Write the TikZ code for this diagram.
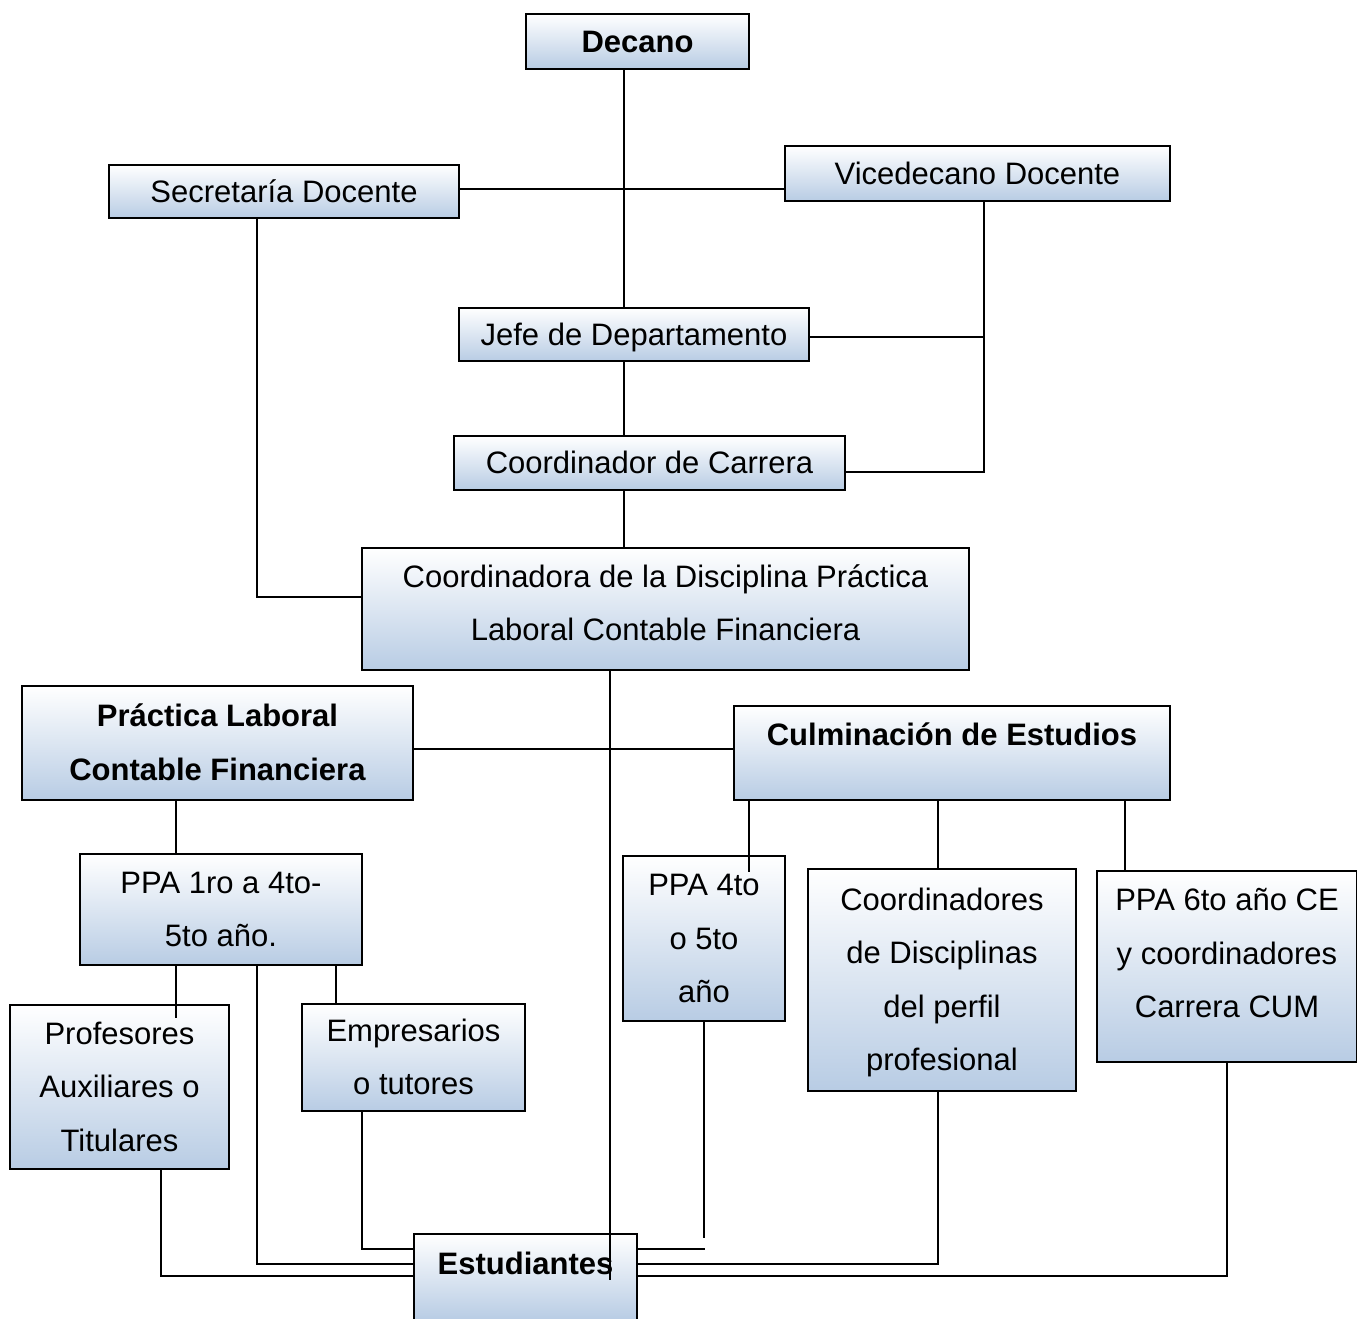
\documentclass[tikz,border=0pt]{standalone}
\usepackage{fontspec}
\setmainfont{Liberation Sans}
\definecolor{boxblue}{RGB}{184,204,228}
\tikzset{
  orgbox/.style={draw, line width=1.6pt, top color=white, bottom color=boxblue,
    inner sep=0pt, align=center, font=\fontsize{31}{53.5}\selectfont,
    execute at begin node=\strut, execute at end node=\strut},
  conn/.style={line width=1.6pt, line cap=rect}
}
\begin{document}
\begin{tikzpicture}[x=1pt,y=-1pt]
\useasboundingbox (0,0) rectangle (1357,1318);
% boxes
\node[orgbox, minimum width=223pt, minimum height=55pt] (dec) at (637.5,41.5) {\textbf{Decano}};
\node[orgbox, minimum width=350pt, minimum height=51pt] (sec) at (284,191.5) {Secretaría Docente};
\node[orgbox, minimum width=385pt, minimum height=55pt] (vice) at (977.5,173.5) {Vicedecano Docente};
\node[orgbox, minimum width=350pt, minimum height=53pt] (jefe) at (634,334.5) {Jefe de Departamento};
\node[orgbox, minimum width=391pt, minimum height=52pt] (coord) at (649.5,463) {Coordinador de Carrera};
\node[orgbox, minimum width=607pt, minimum height=122pt] (disc) at (665.5,609) {\strut Coordinadora de la Disciplina Práctica\\Laboral Contable Financiera\rule[-27pt]{0pt}{27pt}};
\node[orgbox, minimum width=391pt, minimum height=114pt] (plcf) at (217.5,743) {\strut\textbf{Práctica Laboral}\\\textbf{Contable Financiera}};
\node[orgbox, minimum width=436pt, minimum height=94pt] (culm) at (952,753) {\textbf{Culminación de Estudios}\rule[-52pt]{0pt}{52pt}};
\node[orgbox, minimum width=282pt, minimum height=111pt] (ppa1) at (221,909.5) {\strut PPA 1ro a 4to-\\5to año.};
\node[orgbox, minimum width=162pt, minimum height=165pt] (ppa4) at (704,938.5) {\strut PPA 4to\\o 5to\\año};
\node[orgbox, minimum width=268pt, minimum height=222pt] (cdis) at (942,980) {\strut Coordinadores\\de Disciplinas\\del perfil\\profesional};
\node[orgbox, minimum width=260pt, minimum height=191pt] (ppa6) at (1227,966.5) {\strut PPA 6to año CE\\y coordinadores\\Carrera CUM\rule[-42pt]{0pt}{42pt}};
\node[orgbox, minimum width=219pt, minimum height=164pt] (prof) at (119.5,1087) {\strut Profesores\\Auxiliares o\\Titulares};
\node[orgbox, minimum width=223pt, minimum height=107pt] (emp) at (413.5,1057.5) {\strut Empresarios\\o tutores};
\node[orgbox, minimum width=223pt, minimum height=86pt] (est) at (525.5,1277) {\textbf{Estudiantes}\rule[-42pt]{0pt}{42pt}};
% free ends
\coordinate (vt) at ([xshift=6.5pt]vice.south);
\coordinate (e4) at (704,1237);
\coordinate (e4b) at (704,1249);
% connectors
\draw[conn] ([xshift=-13.5pt]dec.south) -- ([xshift=-10pt]jefe.north);
\draw[conn] ([yshift=2.5pt]sec.east) -- ([yshift=2.5pt]sec.east -| vice.west);
\draw[conn] (vt) |- ([yshift=-9pt]coord.east);
\draw[conn] ([yshift=-2.5pt]jefe.east) -| (vt);
\draw[conn] ([xshift=-10pt]jefe.south) -- ([xshift=-25.5pt]coord.north);
\draw[conn] ([xshift=-25.5pt]coord.south) -- ([xshift=-41.5pt]disc.north);
\draw[conn] ([xshift=-27pt]sec.south) |- ([yshift=12pt]disc.west);
\draw[conn] ([xshift=-55.5pt]disc.south) -- ([xshift=84.5pt,yshift=-46pt]est.north);
\draw[conn] ([yshift=-6pt]plcf.east) -- ([yshift=-6pt]plcf.east -| culm.west);
\draw[conn] ([xshift=-41.5pt]plcf.south) -- ([xshift=-45pt]ppa1.north);
\draw[conn] ([xshift=-45pt]ppa1.south) -- ([xshift=56.5pt,yshift=-13pt]prof.north);
\draw[conn] ([xshift=115pt]ppa1.south) -- ([xshift=-77.5pt]emp.north);
\draw[conn] ([xshift=36pt]ppa1.south) |- ([yshift=13pt]est.west);
\draw[conn] ([xshift=41.5pt]prof.south) |- ([yshift=1pt]est.west);
\draw[conn] ([xshift=-51.5pt]emp.south) |- ([yshift=28pt]est.west);
\draw[conn] ([xshift=-203pt]culm.south) -- ([xshift=45pt,yshift=-16pt]ppa4.north);
\draw[conn] ([xshift=-14pt]culm.south) -- ([xshift=-4pt]cdis.north);
\draw[conn] ([xshift=173pt]culm.south) -- ([xshift=-102pt]ppa6.north);
\draw[conn] (ppa4.south) -- (e4);
\draw[conn] ([yshift=28pt]est.east) -- (e4b);
\draw[conn] ([xshift=-4pt]cdis.south) |- ([yshift=13pt]est.east);
\draw[conn] (ppa6.south) |- ([yshift=1pt]est.east);
\end{tikzpicture}
\end{document}
